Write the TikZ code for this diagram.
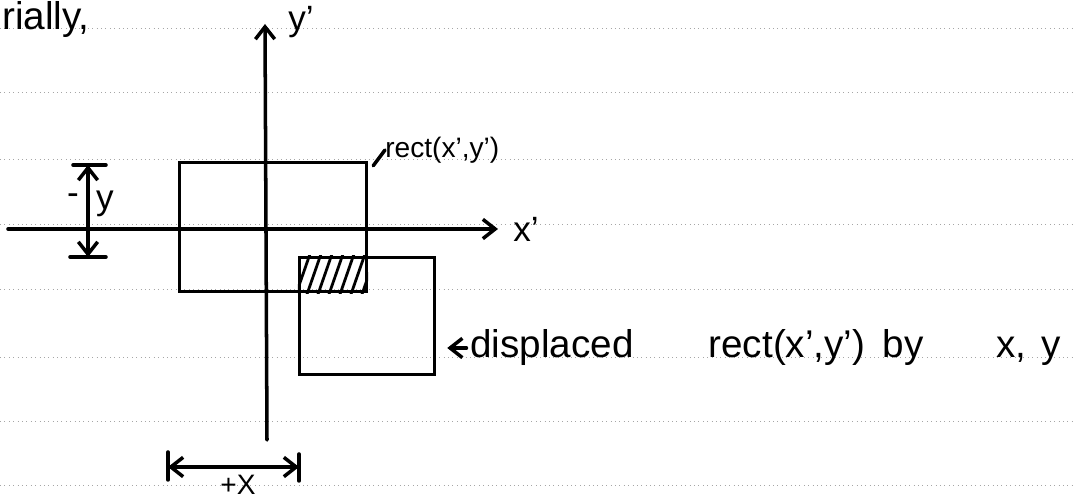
\documentclass[tikz,border=0pt]{standalone}
\usepackage{fontspec}
\setmainfont{Liberation Sans}
\usetikzlibrary{positioning, arrows.meta}

\begin{document}
\begin{tikzpicture}[
		x=0.02cm, y=-0.02cm,                        % 1 unidad = 1 pixel
		trazo/.style = {line width=2pt, black, line cap=round},
		caja/.style = {rectangle, draw, line width=2pt, inner sep=0pt},
		regla/.style = {gray!70, dotted, line width=0.5pt},
		letra/.style = {font=\fontsize{20}{22}\selectfont, inner sep=0pt},
		flecha/.style = {-{Straight Barb[length=7pt, width=11pt]}},
		cota/.style = {{Straight Barb[length=7pt, width=11pt]}-{Straight Barb[length=7pt, width=11pt]}}
		]
		\useasboundingbox (0,0) rectangle (1073,499);
		
		% Renglones del cuaderno
		\foreach \yy in {28, 92, 159, 224, 289, 357, 421, 485}
			\draw[regla] (0,\yy) -- (1073,\yy);
		
		% Texto de arriba
		\node[letra, font=\fontsize{22}{24}\selectfont, anchor=base west] (rially) at (2,30) {rially,};
		
		% Rectangulos
		\node[caja, minimum width=3.74cm, minimum height=2.58cm] (rect1) at (273,227) {};
		\node[caja, minimum width=2.7cm, minimum height=2.34cm] (rect2) at (367,316) {};
		
		% Zona rayada
		\begin{scope}
			\clip (rect2.north west) rectangle (rect1.south east);
			\foreach \k in {0,...,6}
				\draw[trazo, line width=1.6pt] (294+\k*11,300) -- (310+\k*11,254);
		\end{scope}
		
		% Ejes
		\coordinate (yabajo) at (267,440);
		\coordinate (yarriba) at (265,24);
		\draw[trazo, flecha] (yabajo) -- (yarriba);
		\node[letra] (ylab) at (301,22) {y’};
		
		\coordinate (xizq) at (8,229);
		\coordinate (xder) at (498,229);
		\draw[trazo, flecha] (xizq) -- (xder);
		\node[letra, right=0.3cm of xder] (xlab) {x’};
		
		% Etiquetas de los rectangulos
		\node[letra, font=\fontsize{16}{18}\selectfont, anchor=west] (rlab) at (385,150) {rect(x’,y’)};
		\draw[trazo] ([shift={(5,5)}]rect1.north east) -- (rlab.west);
		
		\node[letra, font=\fontsize{22}{24}\selectfont, anchor=west] (dlab) at (470,348)
			{displaced\hspace{1.5cm}rect(x’,y’)\hspace{0.35cm}by\hspace{1.45cm}x,\hspace{0.3cm}y};
		\draw[trazo, flecha, shorten <=2pt, shorten >=0.22cm] (dlab.west) -- (dlab.west -| rect2.east);
		
		% Cota -y
		\coordinate (ysup) at (88,165);
		\coordinate (yinf) at (88,257);
		\draw[trazo] ([xshift=-0.3cm]ysup) -- ([xshift=0.36cm]ysup);
		\draw[trazo] ([xshift=-0.36cm]yinf) -- ([xshift=0.36cm]yinf);
		\draw[trazo, cota] (ysup) -- (yinf);
		\node[letra] (menos) at (73,199) {-};
		\node[letra] (ylet) at (105,204) {y};
		
		% Cota +x
		\coordinate (xini) at (168,467);
		\coordinate (xfin) at (299,467);
		\draw[trazo] ([yshift=0.3cm]xini) -- ([yshift=-0.26cm]xini);
		\draw[trazo] ([yshift=0.26cm]xfin) -- ([yshift=-0.28cm]xfin);
		\draw[trazo, cota] (xini) -- (xfin);
		\node[letra, font=\fontsize{16}{18}\selectfont, anchor=base] (masx) at (238,495) {+X};
		
	\end{tikzpicture}
\end{document}
